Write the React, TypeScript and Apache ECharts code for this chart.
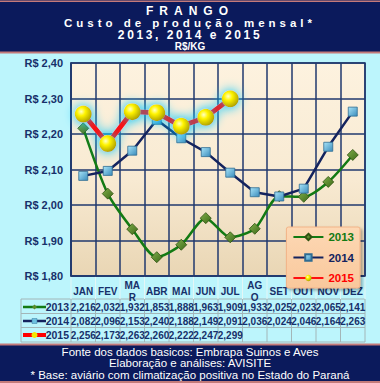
import React, { useEffect, useRef } from "react";
import * as echarts from "echarts";

const months = ["JAN", "FEV", "MAR", "ABR", "MAI", "JUN", "JUL", "AGO", "SET", "OUT", "NOV", "DEZ"];
const years = ["2013", "2014", "2015"];
const v2013 = [2.216, 2.032, 1.932, 1.853, 1.888, 1.963, 1.909, 1.933, 2.025, 2.023, 2.065, 2.141];
const v2014 = [2.082, 2.096, 2.153, 2.24, 2.188, 2.149, 2.091, 2.036, 2.024, 2.046, 2.164, 2.263];
const v2015 = [2.256, 2.173, 2.263, 2.26, 2.222, 2.247, 2.299];
const yMin = 1.8;
const yMax = 2.4;
const yStep = 0.1;

const titleLines = ["FRANGO", "Custo de produção mensal*", "2013, 2014 e 2015", "R$/KG"];
const footLines = [
  "Fonte dos dados basicos: Embrapa Suinos e Aves",
  "Elaboração e análises: AVISITE",
  "* Base: aviário com climatização positiva no Estado do Paraná",
];

const W = 380;
const H = 383;
const GL = 71;
const GR = 365;
const GT = 63;
const GB = 276;
const cellW = (GR - GL) / months.length;
const NAVY = "#0b1a5c";
const PINK = "#c47a7a";
const TXT = "#17306a";
const GRIDC = "#20386e";

const fmt = (v: number | undefined) => (v == null ? "" : v.toFixed(3).replace(".", ","));

export default function App() {
  const ref = useRef<HTMLDivElement>(null);
  useEffect(() => {
    if (!ref.current) return;
    const chart = echarts.init(ref.current, undefined, { renderer: "svg" });
    const series = [v2013, v2014, v2015];
    const rowY = [307, 321, 335];
    const rowLines = [299, 313.5, 327.5, 342];

    const graphic: any[] = [];
    graphic.push({ type: "rect", shape: { x: 0, y: 0, width: W, height: 53 }, style: { fill: NAVY }, silent: true });
    graphic.push({ type: "rect", shape: { x: 0, y: 0.5, width: W, height: 1.5 }, style: { fill: PINK }, silent: true });
    graphic.push({ type: "rect", shape: { x: 0, y: 51.5, width: W, height: 2 }, style: { fill: PINK }, silent: true });
    graphic.push({ type: "rect", shape: { x: 0, y: 344, width: W, height: H - 344 }, style: { fill: NAVY }, silent: true });
    graphic.push({ type: "rect", shape: { x: 0, y: 343.5, width: W, height: 2 }, style: { fill: PINK }, silent: true });
    graphic.push({ type: "rect", shape: { x: 0, y: 381, width: W, height: 2 }, style: { fill: PINK }, silent: true });

    const tStyles = [
      { y: 11, size: 12 },
      { y: 23, size: 11.5 },
      { y: 34.5, size: 12 },
      { y: 46, size: 10 },
    ];
    titleLines.forEach((t, i) => {
      graphic.push({
        type: "text",
        x: 190,
        y: tStyles[i].y,
        silent: true,
        style: {
          text: t,
          fill: "#ffffff",
          font: `bold ${tStyles[i].size}px Arial`,
          align: "center",
          verticalAlign: "middle",
        },
      });
    });
    footLines.forEach((t, i) => {
      graphic.push({
        type: "text",
        x: 190,
        y: 351.5 + i * 11.5,
        silent: true,
        style: { text: t, fill: "#ffffff", font: "11.5px Arial", align: "center", verticalAlign: "middle" },
      });
    });

    rowLines.forEach((y) => {
      graphic.push({ type: "line", silent: true, shape: { x1: 21, y1: y, x2: GR, y2: y }, style: { stroke: "#a3b6b8", lineWidth: 1 } });
    });
    graphic.push({ type: "line", silent: true, shape: { x1: 21, y1: 299, x2: 21, y2: 342 }, style: { stroke: "#a3b6b8", lineWidth: 1 } });
    for (let i = 0; i <= months.length; i++) {
      const x = GL + i * cellW;
      graphic.push({ type: "line", silent: true, shape: { x1: x, y1: GB, x2: x, y2: 299 }, style: { stroke: "#e4f6f6", lineWidth: 1 } });
      graphic.push({ type: "line", silent: true, shape: { x1: x, y1: 299, x2: x, y2: 342 }, style: { stroke: "#a3b6b8", lineWidth: 1 } });
    }
    const rowColors = ["#137a13", "#14235e", "#ff0000"];
    years.forEach((yr, i) => {
      const y = rowY[i];
      graphic.push({
        type: "line",
        silent: true,
        shape: { x1: 23, y1: y, x2: 46, y2: y },
        style: { stroke: rowColors[i], lineWidth: i === 2 ? 4 : 2.5 },
      });
      if (i === 0) {
        graphic.push({ type: "polygon", silent: true, shape: { points: [[34.5, y - 2.5], [37, y], [34.5, y + 2.5], [32, y]] }, style: { fill: "#5a8a2a" } });
      } else if (i === 1) {
        graphic.push({ type: "rect", silent: true, shape: { x: 32, y: y - 2.5, width: 5, height: 5 }, style: { fill: "#6cc0e0", stroke: "#3a7aa0", lineWidth: 0.5 } });
      } else {
        graphic.push({ type: "circle", silent: true, shape: { cx: 34.5, cy: y, r: 3 }, style: { fill: "#f2e600" } });
      }
      graphic.push({
        type: "text",
        x: 69,
        y,
        silent: true,
        style: { text: yr, fill: TXT, font: "bold 10.5px Arial", align: "right", verticalAlign: "middle" },
      });
    });

    const tableAxes = series.map((arr, i) => ({
      type: "category",
      gridIndex: 0,
      position: "bottom",
      offset: rowY[i] - GB - 8,
      data: months.map((_, j) => fmt(arr[j])),
      axisLine: { show: false },
      axisTick: { show: false },
      splitLine: { show: false },
      axisLabel: {
        interval: 0,
        hideOverlap: false,
        margin: 8,
        verticalAlign: "middle",
        color: TXT,
        fontFamily: "Arial",
        fontWeight: "bold",
        fontSize: 10,
      },
    }));

    const option: any = {
      animation: false,
      backgroundColor: "#bcf5fc",
      graphic,
      grid: {
        left: GL,
        top: GT,
        width: GR - GL,
        height: GB - GT,
        show: true,
        borderColor: GRIDC,
        borderWidth: 1.5,
        backgroundColor: {
          type: "linear",
          x: 0,
          y: 0,
          x2: 0,
          y2: 1,
          colorStops: [
            { offset: 0, color: "#fdf2df" },
            { offset: 0.55, color: "#f8ead2" },
            { offset: 1, color: "#e9d6b4" },
          ],
        },
      },
      legend: {
        orient: "vertical",
        right: 20,
        top: 227,
        itemWidth: 30,
        itemHeight: 8,
        itemGap: 8.5,
        padding: [4, 6, 4, 6],
        backgroundColor: {
          type: "linear",
          x: 0,
          y: 0,
          x2: 0,
          y2: 1,
          colorStops: [
            { offset: 0, color: "#fdd8b4" },
            { offset: 1, color: "#f9c89c" },
          ],
        },
        borderColor: "#f2b488",
        borderWidth: 1,
        borderRadius: 2,
        shadowColor: "rgba(0,0,0,0.3)",
        shadowBlur: 3,
        shadowOffsetX: 2,
        shadowOffsetY: 2,
        textStyle: { fontFamily: "Arial", fontWeight: "bold", fontSize: 11.5 },
        data: years.map((y, i) => ({ name: y, textStyle: { color: rowColors[i] } })),
      },
      xAxis: [
        {
          type: "category",
          gridIndex: 0,
          data: months,
          boundaryGap: true,
          axisLine: { show: true, lineStyle: { color: GRIDC, width: 1.5 } },
          axisTick: { show: false },
          splitLine: { show: true, interval: 0, lineStyle: { color: GRIDC, width: 1.5 } },
          axisLabel: {
            interval: 0,
            hideOverlap: false,
            margin: 15,
            verticalAlign: "middle",
            color: TXT,
            fontFamily: "Arial",
            fontWeight: "bold",
            fontSize: 10,
            lineHeight: 12,
            width: 22.5,
            overflow: "breakAll",
          },
        },
        ...tableAxes,
      ],
      yAxis: {
        type: "value",
        min: yMin,
        max: yMax,
        interval: yStep,
        axisLine: { show: true, lineStyle: { color: GRIDC, width: 1.5 } },
        axisTick: { show: false },
        splitLine: { show: true, lineStyle: { color: GRIDC, width: 1.5 } },
        axisLabel: {
          margin: 8,
          color: TXT,
          fontFamily: "Arial",
          fontWeight: "bold",
          fontSize: 11,
          formatter: (v: number) => "R$ " + v.toFixed(2).replace(".", ","),
        },
      },
      series: [
        {
          name: "2013",
          type: "line",
          data: v2013,
          smooth: 0.25,
          z: 3,
          symbol: "diamond",
          symbolSize: 11,
          lineStyle: { color: "#137a13", width: 2.5 },
          itemStyle: {
            color: {
              type: "linear",
              x: 0,
              y: 0,
              x2: 1,
              y2: 1,
              colorStops: [
                { offset: 0, color: "#7fae4a" },
                { offset: 1, color: "#3d6a18" },
              ],
            },
            borderColor: "#2e5210",
            borderWidth: 0.8,
          },
        },
        {
          name: "2014",
          type: "line",
          data: v2014,
          z: 4,
          symbol: "rect",
          symbolSize: 9,
          lineStyle: { color: "#14235e", width: 2.5 },
          itemStyle: {
            color: {
              type: "linear",
              x: 0,
              y: 0,
              x2: 1,
              y2: 1,
              colorStops: [
                { offset: 0, color: "#a8e4f8" },
                { offset: 1, color: "#3a8cbc" },
              ],
            },
            borderColor: "#2f6c92",
            borderWidth: 0.8,
          },
        },
        {
          name: "2015",
          type: "line",
          data: v2015,
          z: 5,
          symbol: "circle",
          symbolSize: 17,
          lineStyle: { color: "#ff1010", width: 5, shadowColor: "#00c8ff", shadowBlur: 12 },
          itemStyle: {
            color: {
              type: "radial",
              x: 0.38,
              y: 0.35,
              r: 0.7,
              colorStops: [
                { offset: 0, color: "#ffffc8" },
                { offset: 0.35, color: "#fff400" },
                { offset: 1, color: "#a89a00" },
              ],
            },
            shadowColor: "#00c8ff",
            shadowBlur: 12,
          },
        },
      ],
    };
    chart.setOption(option);

    const spacing: Record<string, number> = {
      [titleLines[0]]: 6,
      [titleLines[1]]: 4,
      [titleLines[2]]: 2.6,
    };
    const applySpacing = () => {
      ref.current?.querySelectorAll("text").forEach((t) => {
        const s = spacing[t.textContent || ""];
        if (s) t.setAttribute("letter-spacing", String(s));
      });
    };
    applySpacing();
    chart.on("finished", applySpacing);
    const raf = requestAnimationFrame(applySpacing);

    return () => {
      cancelAnimationFrame(raf);
      chart.dispose();
    };
  }, []);
  return <div ref={ref} style={{ position: "fixed", left: 0, top: 0, width: W, height: H }} />;
}
